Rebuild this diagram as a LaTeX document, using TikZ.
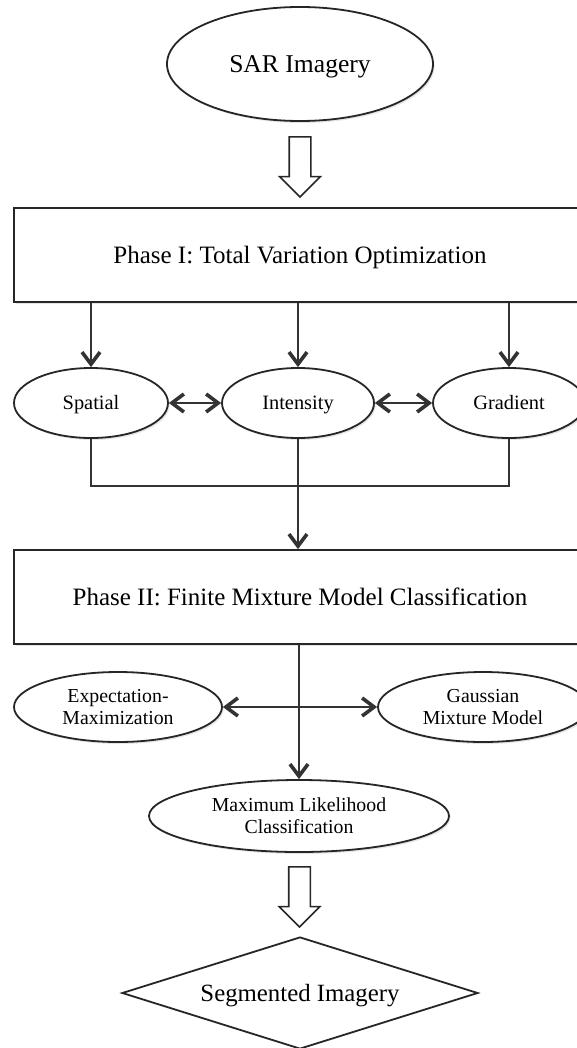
\documentclass[tikz,border=0pt]{standalone}
\usepackage{fontspec}
\setmainfont{Liberation Serif}
\usetikzlibrary{arrows.meta, shapes.geometric, shapes.arrows, shadows, calc}

\begin{document}
\begin{tikzpicture}[
        x=0.5pt, y=-0.5pt,
        conn/.style={black!80, line width=0.9pt},
        pointer/.style={-{Straight Barb[length=6pt, width=9pt, line width=1.8pt]}},
        twoway/.style={{Straight Barb[length=6pt, width=9pt, line width=1.8pt]}-{Straight Barb[length=6pt, width=9pt, line width=1.8pt]}},
        shade/.style={drop shadow={opacity=0.2, shadow xshift=0.8pt, shadow yshift=-1pt}},
        oval/.style={ellipse, draw=black!85, line width=0.9pt, fill=white, inner sep=0pt, shade},
        phase/.style={rectangle, draw=black!85, line width=0.9pt, fill=white, inner sep=0pt,
                      minimum width=286pt, minimum height=47pt, font=\fontsize{12.5}{15}\selectfont,
                      text height=8.3pt, text depth=0pt, shade},
        smalltext/.style={font=\fontsize{10.2}{11}\selectfont, text height=6.8pt, text depth=0pt},
        twoline/.style={align=center, font=\fontsize{9.9}{10.9}\selectfont},
        hollow/.style={single arrow, draw=black!85, line width=0.8pt, fill=white, yshift=1.5pt, rotate=-90,
                       inner sep=5pt, minimum height=30pt, minimum width=19.5pt, single arrow head extend=4.75pt}
    ]
    \useasboundingbox (0,0) rectangle (577,1048);

    % Vstupní obraz a první fáze
    \node[oval, minimum width=133pt, minimum height=57pt, font=\fontsize{12.8}{15}\selectfont,
          text height=8.5pt, text depth=0pt]
        (sar) at (300,64) {SAR Imagery};
    \node[phase] (phaseone) at (300,255) {Phase I: Total Variation Optimization};
    \node[hollow] (arrowone) at ($(sar.south)!0.5!(phaseone.north)$) {};

    % Tři složky
    \node[oval, smalltext, minimum width=77pt, minimum height=35pt] (spatial) at (91,403) {Spatial};
    \node[oval, smalltext, minimum width=76pt, minimum height=35pt] (intensity) at (298,403) {Intensity};
    \node[oval, smalltext, minimum width=76pt, minimum height=35pt] (gradient) at (509,403) {Gradient};

    \foreach \n in {spatial, intensity, gradient}
        \draw[conn, pointer] (phaseone.south -| \n.north) -- (\n.north);
    \draw[conn, twoway] (spatial) -- (intensity);
    \draw[conn, twoway] (intensity) -- (gradient);

    % Druhá fáze
    \node[phase] (phasetwo) at (300,597) {Phase II: Finite Mixture Model Classification};

    % Spojení složek
    \coordinate (merge) at (298,486);
    \draw[conn] (spatial.south) |- (merge) -| (gradient.south);
    \draw[conn, pointer] (intensity.south) -- (phasetwo.north -| intensity.south);

    % Klasifikace
    \node[oval, twoline, minimum width=104pt, minimum height=35pt] (em) at (118,707) {Expectation-\\Maximization};
    \node[oval, twoline, minimum width=105pt, minimum height=35pt] (gmm) at (483,707) {Gaussian\\Mixture Model};
    \node[oval, twoline, minimum width=150pt, minimum height=36pt] (ml) at (299,816) {Maximum Likelihood\\Classification};

    \draw[conn, pointer] (phasetwo.south -| ml.north) -- (ml.north);
    \draw[conn, twoway] (em) -- (gmm);

    % Výstup
    \node[diamond, draw=black!85, line width=0.9pt, fill=white, inner sep=0pt, shape aspect=3.18,
          minimum width=178pt, minimum height=56pt, font=\fontsize{12.4}{15}\selectfont,
          text height=8.2pt, text depth=0pt]
        (seg) at (300,993) {Segmented Imagery};
    \node[hollow] (arrowtwo) at ($(ml.south)!0.5!(seg.north)$) {};

\end{tikzpicture}
\end{document}
